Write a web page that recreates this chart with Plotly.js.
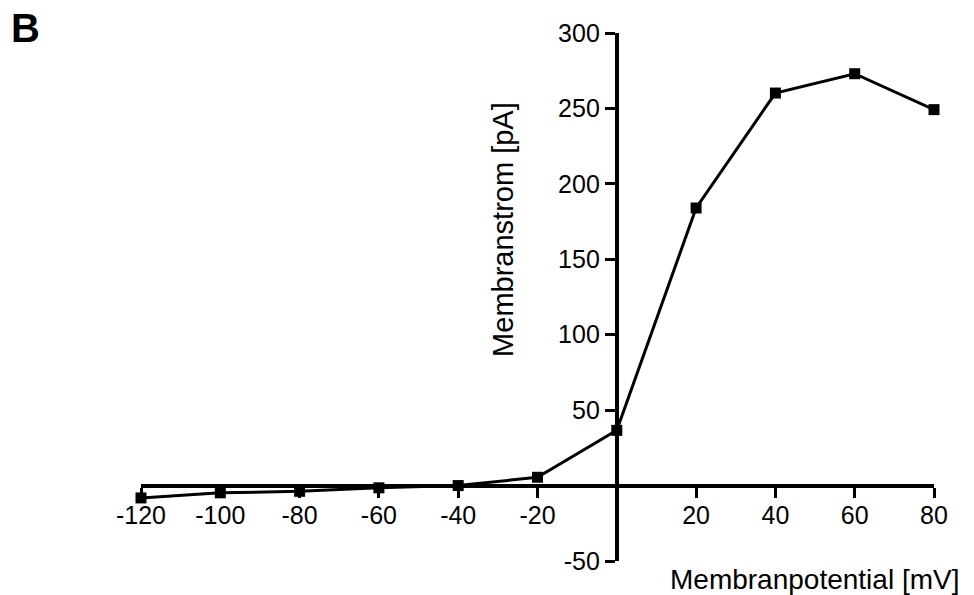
<!DOCTYPE html>
<html>
<head>
<meta charset="utf-8">
<script src="https://cdn.plot.ly/plotly-3.0.1.min.js"></script>
<style>html,body{margin:0;padding:0;background:#fff;}#chart{width:974px;height:595px;}</style>
</head>
<body>
<div id="chart"></div>
<script>
// Data
const potential_mV = [-120, -100, -80, -60, -40, -20, 0, 20, 40, 60, 80];
const current_pA   = [-8.2, -4.8, -3.8, -1.5, 0, 5.5, 36.6, 184, 260.2, 273, 249.2];
const xTickVals = [-120, -100, -80, -60, -40, -20, 20, 40, 60, 80];
const xTickText = ["-120", "-100", "-80", "-60", "-40", "-20", "20", "40", "60", "80"];
const yTickVals = [-50, 50, 100, 150, 200, 250, 300];
const yTickText = ["-50", "50", "100", "150", "200", "250", "300"];

const xRange = [-120, 80];
const yRange = [-50, 300];
// paper positions where the axes cross the origin
const xAxisPos = (0 - yRange[0]) / (yRange[1] - yRange[0]);
const yAxisPos = (0 - xRange[0]) / (xRange[1] - xRange[0]);

const FONT = "Liberation Sans, Arial, sans-serif";

const trace = {
  x: potential_mV,
  y: current_pA,
  type: "scatter",
  mode: "lines+markers",
  line: {color: "#000", width: 3},
  marker: {symbol: "square", size: 11, color: "#000"},
  cliponaxis: false,
  hoverinfo: "skip"
};

const layout = {
  width: 974, height: 595,
  margin: {l: 141, r: 40, t: 33, b: 34},
  paper_bgcolor: "#fff", plot_bgcolor: "rgba(0,0,0,0)",
  showlegend: false,
  font: {family: FONT, color: "#000"},
  xaxis: {
    range: xRange, anchor: "free", position: xAxisPos,
    showgrid: false, zeroline: false,
    showline: true, linecolor: "#000", linewidth: 4,
    ticks: "outside", ticklen: 10, tickwidth: 3, tickcolor: "#000",
    tickvals: xTickVals, ticktext: xTickText, ticklabelstandoff: -4,
    tickfont: {family: FONT, size: 25, color: "#000"}
  },
  yaxis: {
    range: yRange, anchor: "free", position: yAxisPos,
    showgrid: false, zeroline: false,
    showline: true, linecolor: "#000", linewidth: 4,
    ticks: "outside", ticklen: 10, tickwidth: 3, tickcolor: "#000",
    tickvals: yTickVals, ticktext: yTickText,
    tickfont: {family: FONT, size: 25, color: "#000"}
  },
  annotations: [
    {text: "Membranstrom [pA]", xref: "paper", yref: "y", x: yAxisPos, xshift: -114, y: 170,
     textangle: -90, showarrow: false, xanchor: "center", yanchor: "middle",
     font: {family: FONT, size: 29, color: "#000"}},
    {text: "Membranpotential [mV]", xref: "paper", yref: "paper", x: 1, xshift: 27, y: 0, yshift: -18,
     showarrow: false, xanchor: "right", yanchor: "middle",
     font: {family: FONT, size: 28, color: "#000"}},
    {text: "<b>B</b>", xref: "paper", yref: "paper", x: 0, xshift: -116, y: 1, yshift: 5,
     showarrow: false, xanchor: "center", yanchor: "middle",
     font: {family: FONT, size: 40, color: "#000"}}
  ]
};

Plotly.newPlot("chart", [trace], layout, {displayModeBar: false, staticPlot: true});
</script>
</body>
</html>
